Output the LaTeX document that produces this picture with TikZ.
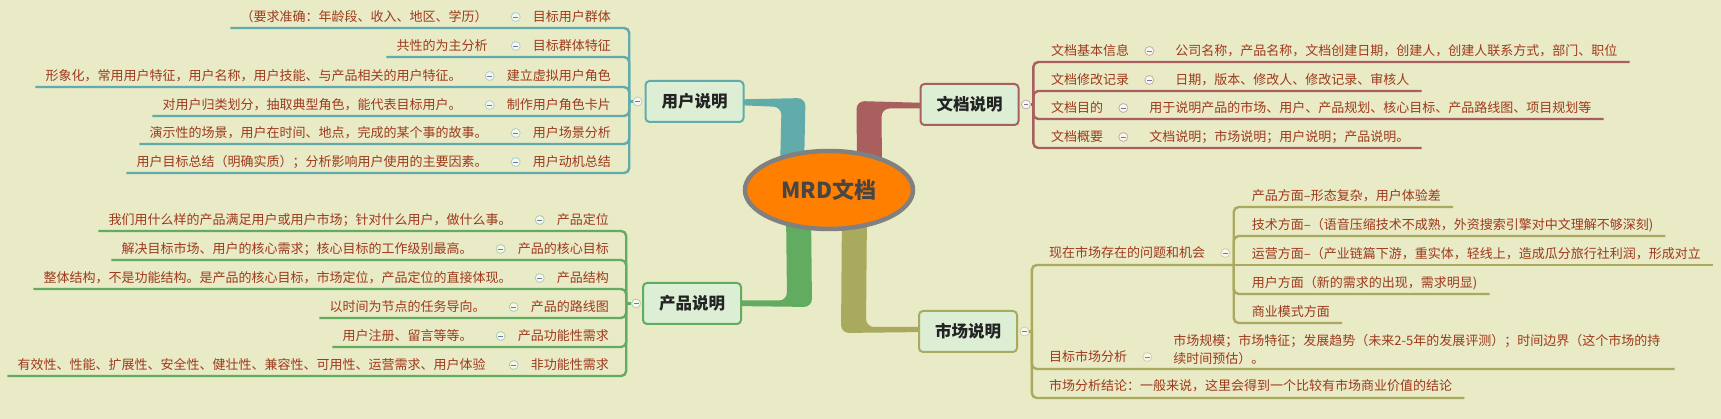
\documentclass[tikz,border=0pt]{standalone}
\usepackage{fontspec}
\setmainfont{Noto Sans CJK SC}
\usetikzlibrary{positioning,calc,shapes.geometric}

\definecolor{bgcol}{RGB}{233,234,198}
\definecolor{txtred}{RGB}{158,58,28}
\definecolor{boxfill}{RGB}{220,239,213}
\definecolor{boxtext}{RGB}{35,35,35}
\definecolor{ucol}{RGB}{98,171,171}
\definecolor{dcol}{RGB}{170,95,95}
\definecolor{pcol}{RGB}{98,172,98}
\definecolor{mcol}{RGB}{170,170,95}
\definecolor{mrdfill}{RGB}{255,128,0}
\definecolor{mrdline}{RGB}{128,128,128}
\definecolor{mrdtext}{RGB}{70,70,70}
\definecolor{minuscol}{RGB}{110,120,175}

\pgfdeclarelayer{bg}
\pgfdeclarelayer{links}
\pgfsetlayers{bg,links,main}

\begin{document}
\begin{tikzpicture}[x = 1pt, y = -1pt]
		\tikzstyle{every node} = [font = \fontsize{13}{16}\selectfont, text = txtred, inner sep = 0pt]
		\tikzset{
			topic/.style = {draw = #1, line width = 2pt, fill = boxfill, rounded corners = 4pt,
				minimum width = 98pt, minimum height = 41pt, text = boxtext,
				font = \bfseries\fontsize{16.5}{18}\selectfont},
			foldmark/.style = {circle, draw = #1!55!white, fill = white!65!bgcol, line width = 0.8pt,
				minimum size = 9pt, path picture = {\draw[minuscol, line width = 0.9pt]
				([xshift = -2.4pt]path picture bounding box.center) -- ([xshift = 2.4pt]path picture bounding box.center);}},
			uline/.style = {draw = #1, line width = 2.4pt, rounded corners = 5pt}
		}

% Hintergrund
\begin{pgfonlayer}{bg}
	\fill[bgcol] (0,0) rectangle (1721,419);
\end{pgfonlayer}
\useasboundingbox (0,0) rectangle (1721,419);

% Zentrum
\node[ellipse, draw = mrdline, line width = 4.5pt, fill = mrdfill, minimum width = 168pt, minimum height = 78pt,
	text = mrdtext, font = \bfseries\fontsize{22}{24}\selectfont] (mrd) at (829,190) {MRD文档};

% Hauptthemen
\node[topic = ucol] (user) at (694.5,101.5) {用户说明};
\node[topic = pcol] (prod) at (692,303.5) {产品说明};
\node[topic = dcol] (doc) at (969.5,104.5) {文档说明};
\node[topic = mcol] (mkt) at (968,331.5) {市场说明};
\node[foldmark = ucol, left = 2pt of user] (useri) {};
\node[foldmark = pcol, left = 1pt of prod] (prodi) {};
\node[foldmark = dcol, right = 1.5pt of doc] (doci) {};
\node[foldmark = mcol, right = 1.5pt of mkt] (mkti) {};

% Aeste
\begin{pgfonlayer}{links}
	\fill[ucol, rounded corners = 8pt]
		($(user.east)+(-10,-2)$) -- ($(user.east)+(61,-3.5)$) -- ($(mrd.center)+(-25,-20)$) --
		($(mrd.center)+(-49,-20)$) -- ($(user.east)+(37,5.5)$) -- ($(user.east)+(-10,3.5)$) -- cycle;
	\fill[dcol, rounded corners = 8pt]
		($(doc.west)+(10,-1.5)$) -- ($(doc.west)+(-63,-3.5)$) -- ($(mrd.center)+(28,-20)$) --
		($(mrd.center)+(53,-20)$) -- ($(doc.west)+(-38,4)$) -- ($(doc.west)+(10,4)$) -- cycle;
	\fill[pcol, rounded corners = 8pt]
		($(prod.east)+(-10,-3)$) -- ($(prod.east)+(45,-3)$) -- ($(mrd.center)+(-43,20)$) --
		($(mrd.center)+(-18,20)$) -- ($(prod.east)+(70,3.5)$) -- ($(prod.east)+(-10,2.5)$) -- cycle;
	\fill[mcol, rounded corners = 8pt]
		($(mkt.west)+(10,-4.5)$) -- ($(mkt.west)+(-52,-4.5)$) -- ($(mrd.center)+(38,20)$) --
		($(mrd.center)+(13,20)$) -- ($(mkt.west)+(-77,1.5)$) -- ($(mkt.west)+(10,0.5)$) -- cycle;
\end{pgfonlayer}

% Benutzer
\node[anchor = east] (u1) at (611,17) {目标用户群体};
\node[anchor = east] (u2) at (611,46) {目标群体特征};
\node[anchor = east] (u3) at (611,76) {建立虚拟用户角色};
\node[anchor = east] (u4) at (611,105) {制作用户角色卡片};
\node[anchor = east] (u5) at (611,133) {用户场景分析};
\node[anchor = east] (u6) at (611,162) {用户动机总结};
\node[foldmark = ucol, left = 12pt of u1] (u1i) {};
\node[foldmark = ucol, left = 12pt of u2] (u2i) {};
\node[foldmark = ucol, left = 12pt of u3] (u3i) {};
\node[foldmark = ucol, left = 12pt of u4] (u4i) {};
\node[foldmark = ucol, left = 12pt of u5] (u5i) {};
\node[foldmark = ucol, left = 12pt of u6] (u6i) {};
\node[left = 23pt of u1i] (u1d) {（要求准确：年龄段、收入、地区、学历）};
\node[left = 23pt of u2i] (u2d) {共性的为主分析};
\node[left = 23pt of u3i] (u3d) {形象化，常用用户特征，用户名称，用户技能、与产品相关的用户特征。};
\node[left = 23pt of u4i] (u4d) {对用户归类划分，抽取典型角色，能代表目标用户。};
\node[left = 23pt of u5i] (u5d) {演示性的场景，用户在时间、地点，完成的某个事的故事。};
\node[left = 23pt of u6i] (u6d) {用户目标总结（明确实质）；分析影响用户使用的主要因素。};
\coordinate (ubar) at ($(useri.west)+(-3.5,0)$);
\coordinate (u1u) at ($(u1d.west)+(-10,11)$);
\coordinate (u2u) at ($(u2d.west)+(-10,11)$);
\coordinate (u3u) at ($(u3d.west)+(-10,11)$);
\coordinate (u4u) at ($(u4d.west)+(-10,11)$);
\coordinate (u5u) at ($(u5d.west)+(-10,11)$);
\coordinate (u6u) at ($(u6d.west)+(-10,11)$);
\draw[uline = ucol] (useri.west) -- (ubar);
\draw[uline = ucol] (ubar) |- (u1u);
\draw[uline = ucol] (ubar) |- (u2u);
\draw[uline = ucol] (ubar) |- (u3u);
\draw[uline = ucol] (ubar) |- (u4u);
\draw[uline = ucol] (ubar) |- (u5u);
\draw[uline = ucol] (ubar) |- (u6u);

% Produkt
\node[anchor = east] (p1) at (609,220) {产品定位};
\node[anchor = east] (p2) at (609,249) {产品的核心目标};
\node[anchor = east] (p3) at (609,278) {产品结构};
\node[anchor = east] (p4) at (609,307) {产品的路线图};
\node[anchor = east] (p5) at (609,336) {产品功能性需求};
\node[anchor = east] (p6) at (609,365) {非功能性需求};
\node[foldmark = pcol, left = 12pt of p1] (p1i) {};
\node[foldmark = pcol, left = 12pt of p2] (p2i) {};
\node[foldmark = pcol, left = 12pt of p3] (p3i) {};
\node[foldmark = pcol, left = 12pt of p4] (p4i) {};
\node[foldmark = pcol, left = 12pt of p5] (p5i) {};
\node[foldmark = pcol, left = 12pt of p6] (p6i) {};
\node[left = 23pt of p1i] (p1d) {我们用什么样的产品满足用户或用户市场；针对什么用户，做什么事。};
\node[left = 23pt of p2i] (p2d) {解决目标市场、用户的核心需求；核心目标的工作级别最高。};
\node[left = 23pt of p3i] (p3d) {整体结构，不是功能结构。是产品的核心目标，市场定位，产品定位的直接体现。};
\node[left = 23pt of p4i] (p4d) {以时间为节点的任务导向。};
\node[left = 23pt of p5i] (p5d) {用户注册、留言等等。};
\node[left = 23pt of p6i] (p6d) {有效性、性能、扩展性、安全性、健壮性、兼容性、可用性、运营需求、用户体验};
\coordinate (pbar) at ($(prodi.west)+(-5,0)$);
\coordinate (p1u) at ($(p1d.west)+(-10,11)$);
\coordinate (p2u) at ($(p2d.west)+(-10,11)$);
\coordinate (p3u) at ($(p3d.west)+(-10,11)$);
\coordinate (p4u) at ($(p4d.west)+(-10,11)$);
\coordinate (p5u) at ($(p5d.west)+(-10,11)$);
\coordinate (p6u) at ($(p6d.west)+(-10,11)$);
\draw[uline = pcol] (prodi.west) -- (pbar);
\draw[uline = pcol] (pbar) |- (p1u);
\draw[uline = pcol] (pbar) |- (p2u);
\draw[uline = pcol] (pbar) |- (p3u);
\draw[uline = pcol] (pbar) |- (p4u);
\draw[uline = pcol] (pbar) |- (p5u);
\draw[uline = pcol] (pbar) |- (p6u);

% Dokument
\node[anchor = west] (d1) at (1051,51) {文档基本信息};
\node[anchor = west] (d2) at (1051,80) {文档修改记录};
\node[anchor = west] (d3) at (1051,108) {文档目的};
\node[anchor = west] (d4) at (1051,137) {文档概要};
\node[foldmark = dcol, right = 15pt of d1] (d1i) {};
\node[foldmark = dcol, right = 15pt of d2] (d2i) {};
\node[foldmark = dcol, right = 15pt of d3] (d3i) {};
\node[foldmark = dcol, right = 15pt of d4] (d4i) {};
\node[right = 21pt of d1i] (d1d) {公司名称，产品名称，文档创建日期，创建人，创建人联系方式，部门、职位};
\node[right = 21pt of d2i] (d2d) {日期，版本、修改人、修改记录、审核人};
\node[right = 21pt of d3i] (d3d) {用于说明产品的市场、用户、产品规划、核心目标、产品路线图、项目规划等};
\node[right = 21pt of d4i] (d4d) {文档说明；市场说明；用户说明；产品说明。};
\coordinate (dbar) at ($(doci.east)+(2.5,0)$);
\coordinate (d1u) at ($(d1d.east)+(12,11)$);
\coordinate (d2u) at ($(d2d.east)+(12,11)$);
\coordinate (d3u) at ($(d3d.east)+(12,11)$);
\coordinate (d4u) at ($(d4d.east)+(12,11)$);
\draw[uline = dcol] (doci.east) -- (dbar);
\draw[uline = dcol] (dbar) |- (d1u);
\draw[uline = dcol] (dbar) |- (d2u);
\draw[uline = dcol] (dbar) |- (d3u);
\draw[uline = dcol] (dbar) |- (d4u);

% Markt
\node[anchor = west] (m1) at (1049,253) {现在市场存在的问题和机会};
\node[foldmark = mcol, right = 15pt of m1] (m1i) {};
\coordinate (m1u) at ($(m1i.east)+(3.5,12)$);
\node[anchor = west] (s1) at ($(m1u)+(18,-69)$) {产品方面–形态复杂，用户体验差};
\node[anchor = west] (s2) at ($(m1u)+(18,-40)$) {技术方面–（语音压缩技术不成熟，外资搜索引擎对中文理解不够深刻)};
\node[anchor = west] (s3) at ($(m1u)+(18,-11)$) {运营方面–（产业链篇下游，重实体，轻线上，造成瓜分旅行社利润，形成对立};
\node[anchor = west] (s4) at ($(m1u)+(18,18)$) {用户方面（新的需求的出现，需求明显)};
\node[anchor = west] (s5) at ($(m1u)+(18,47)$) {商业模式方面};
\coordinate (s1u) at ($(s1.east)+(12,11)$);
\coordinate (s2u) at ($(s2.east)+(12,11)$);
\coordinate (s3u) at ($(s3.east)+(12,11)$);
\coordinate (s4u) at ($(s4.east)+(12,11)$);
\coordinate (s5u) at ($(s5.east)+(12,11)$);
\draw[uline = mcol] (m1u) |- (s1u);
\draw[uline = mcol] (m1u) |- (s2u);
\draw[uline = mcol] (m1u) -- (s3u);
\draw[uline = mcol] (m1u) |- (s4u);
\draw[uline = mcol] (m1u) |- (s5u);

\node[anchor = west] (m2) at (1049,357) {目标市场分析};
\node[foldmark = mcol, right = 15pt of m2] (m2i) {};
\node[right = 21pt of m2i, yshift = 7pt, align = left, font = \fontsize{13}{18}\selectfont] (m2d)
	{市场规模；市场特征；发展趋势（未来2-5年的发展评测）；时间边界（这个市场的持\\续时间预估）。};
\coordinate (m2u) at ($(m2d.east)+(14,19)$);

\node[anchor = west] (m3) at (1049,386) {市场分析结论：一般来说，这里会得到一个比较有市场商业价值的结论};
\coordinate (m3u) at ($(m3.east)+(12,12)$);

\coordinate (mbar) at ($(mkti.east)+(2.5,0)$);
\draw[uline = mcol] (mkti.east) -- (mbar);
\draw[uline = mcol] (mbar) |- (m1u);
\draw[uline = mcol] (mbar) |- (m2u);
\draw[uline = mcol] (mbar) |- (m3u);

	\end{tikzpicture}
\end{document}
